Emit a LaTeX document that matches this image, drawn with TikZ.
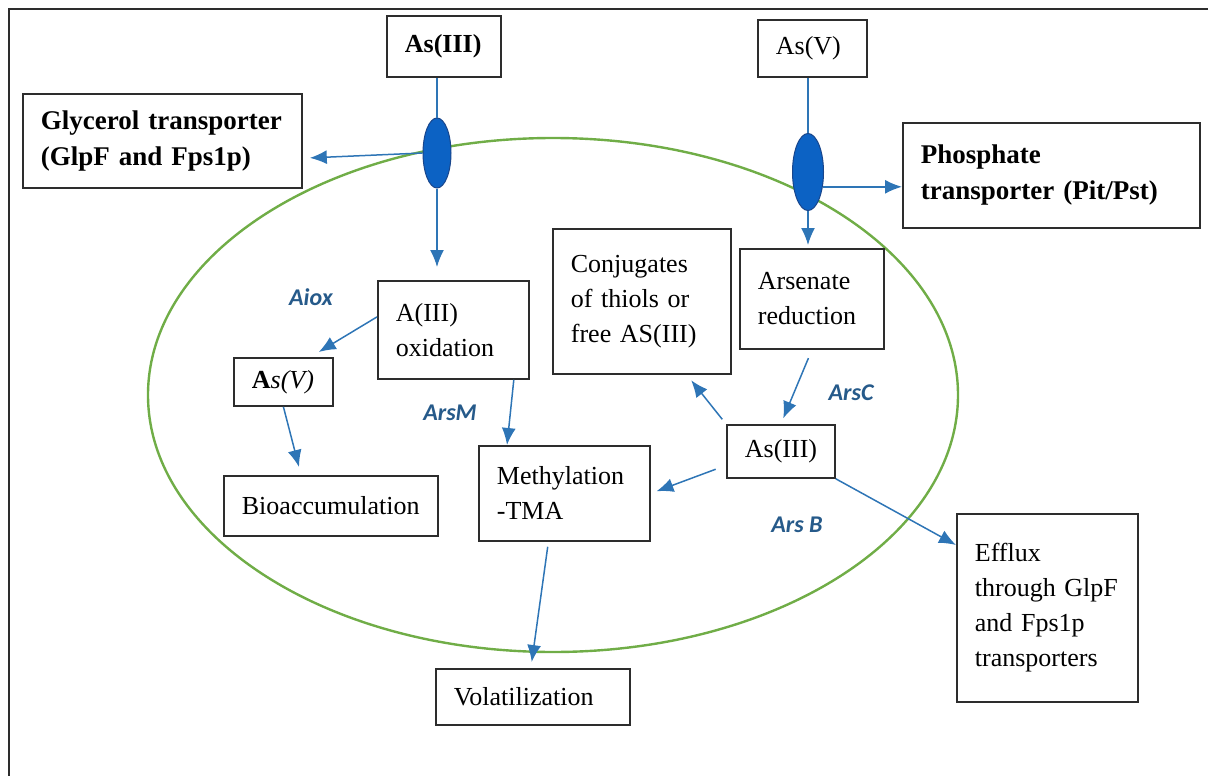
\documentclass[tikz,border=0pt]{standalone}
\usepackage{fontspec}
\setmainfont{Liberation Serif}
\newfontfamily\enzfont{Carlito}
\usetikzlibrary{arrows.meta,shapes.geometric}

\definecolor{boxgray}{RGB}{45,45,45}
\definecolor{arrowblue}{RGB}{46,117,182}
\definecolor{chanblue}{RGB}{12,98,196}
\definecolor{chanedge}{RGB}{25,70,140}
\definecolor{membgreen}{RGB}{112,173,71}
\definecolor{enzblue}{RGB}{38,90,138}

\tikzstyle{box} = [ draw=boxgray,fill=white,line width=1.8pt,anchor=north west,align=left,
                    inner xsep=18pt,inner ysep=0pt,font=\fontsize{26}{35}\selectfont]
\tikzstyle{bigbox} = [box,font=\fontsize{27}{36}\selectfont\bfseries]
\tikzstyle{channel} = [ellipse,draw=chanedge,fill=chanblue,line width=1pt,inner sep=0pt]
\tikzstyle{enzyme} = [text=enzblue,font=\enzfont\fontsize{24}{28}\selectfont\bfseries\itshape]
\tikzstyle{flow} = [draw=arrowblue,line width=1.5pt,-{Latex[length=17pt,width=14pt]}]
\tikzstyle{link} = [draw=arrowblue,line width=1.5pt]

\begin{document}
\begin{tikzpicture}[x=1pt,y=-1pt]
  \useasboundingbox (0,0) rectangle (1208,776);
  \draw[boxgray,line width=1.5pt] (1208,9) -- (9,9) -- (9,776);

  \draw[membgreen,line width=2.4pt] (553,395) ellipse [x radius=405, y radius=257];

  \node[box,text width=78pt,minimum height=61pt] at (386,15) (as3out) {\bfseries As(III)};
  \node[box,text width=73pt,minimum height=57pt] at (757,19) (as5out) {As(V)};
  \node[bigbox,text width=243pt,minimum height=94pt] at (22,93) (glyc) {Glycerol transporter \\ (GlpF and Fps1p)};
  \node[bigbox,text width=261pt,minimum height=105pt] at (902,122) (phos) {Phosphate \\ transporter (Pit/Pst)};
  \node[channel,minimum width=28pt,minimum height=70pt] at (437,153) (chL) {};
  \node[channel,minimum width=31pt,minimum height=77pt] at (808,172) (chR) {};

  \node[box,text width=115pt,minimum height=98pt] at (377,280) (oxid) {A(III) \\ oxidation};
  \node[box,text width=63pt,minimum height=48pt] at (233,357) (as5) {\textbf{A}\textit{s(V)}};
  \node[box,text width=178pt,minimum height=60pt] at (223,475) (bio) {Bioaccumulation};
  \node[box,text width=135pt,minimum height=95pt] at (478,445) (methyl) {Methylation \\ -TMA};
  \node[box,text width=142pt,minimum height=145pt] at (552,228) (conj) {Conjugates \\ of thiols or \\ free AS(III)};
  \node[box,text width=108pt,minimum height=100pt] at (739,248) (arsen) {Arsenate \\ reduction};
  \node[box,text width=72pt,minimum height=53pt] at (726,424) (as3) {As(III)};
  \node[box,text width=145pt,minimum height=188pt] at (956,513) (efflux) {Efflux \\ through GlpF \\ and Fps1p \\ transporters};
  \node[box,text width=158pt,minimum height=56pt] at (435,668) (volat) {Volatilization};

  \node[enzyme] at (311,297) (aiox) {Aiox};
  \node[enzyme] at (450,413) (arsm) {ArsM};
  \node[enzyme] at (851,393) (arsc) {ArsC};
  \node[enzyme] at (797,525) (arsb) {Ars B};

  \draw[link] (chL |- as3out.south) -- (chL.north);
  \draw[flow,shorten >=13pt] (chL.south) -- (chL.south |- oxid.north);
  \draw[flow] (chL.west) -- ([xshift=7pt,yshift=-17pt]glyc.east);
  \draw[link] (chR |- as5out.south) -- (chR.north);
  \draw[flow,shorten >=3pt] (chR.south) -- (chR.south |- arsen.north);
  \draw[flow] (chR.-45) -- (chR.-45 -| phos.west);

  \draw[flow] ([yshift=13pt]oxid.west) -- ([xshift=-15pt,yshift=5pt]as5.north east);
  \draw[flow] (as5.south) -- ([xshift=76pt,yshift=8pt]bio.north west);
  \draw[flow] ([xshift=-16pt]oxid.south east) -- ([xshift=29pt]methyl.north west);
  \draw[flow,shorten <=9pt,shorten >=6pt] (arsen.south) -- (as3.north);
  \draw[flow,shorten <=6pt,shorten >=7pt] (as3.north west) -- ([xshift=-45pt]conj.south east);
  \draw[flow,shorten <=11pt,shorten >=6pt] ([yshift=-14pt]as3.west) -- (methyl.east);
  \draw[flow] (as3.south east) -- ([yshift=-32pt]efflux.north west);
  \draw[flow,shorten <=5pt,shorten >=6pt] ([xshift=-16pt]methyl.south) -- ([xshift=-2pt]volat.north);
\end{tikzpicture}
\end{document}
